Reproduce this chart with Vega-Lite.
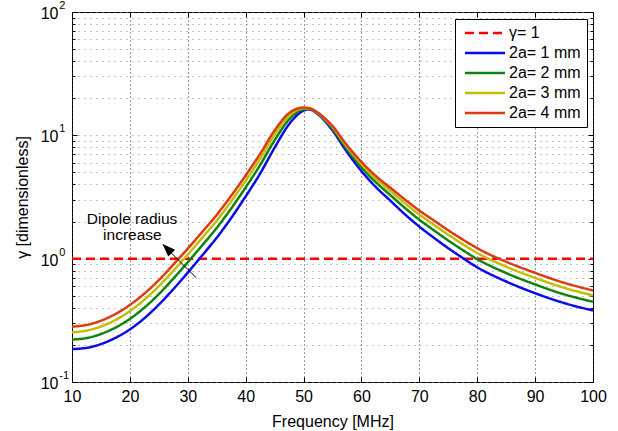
{
  "$schema": "https://vega.github.io/schema/vega-lite/v6.json",
  "width": 521,
  "height": 370,
  "autosize": {"type": "none"},
  "padding": {"left": 72, "top": 12, "right": 25, "bottom": 49},
  "background": "white",
  "config": {
    "view": {"stroke": "black", "strokeWidth": 1},
    "font": "Liberation Sans",
    "axis": {"labelFont": "Liberation Sans", "titleFont": "Liberation Sans", "labelColor": "black", "titleColor": "black", "titleFontWeight": "normal", "tickColor": "black", "domain": false}
  },
  "data": {"values": [
    {"f":10,"g":1,"s":"γ= 1"},{"f":100,"g":1,"s":"γ= 1"},
    {"f":10,"g":0.185,"s":"2a= 1 mm"},{"f":12.5,"g":0.189,"s":"2a= 1 mm"},{"f":15,"g":0.203,"s":"2a= 1 mm"},{"f":17.5,"g":0.228,"s":"2a= 1 mm"},{"f":20,"g":0.267,"s":"2a= 1 mm"},{"f":22.5,"g":0.329,"s":"2a= 1 mm"},{"f":25,"g":0.424,"s":"2a= 1 mm"},{"f":27.5,"g":0.565,"s":"2a= 1 mm"},{"f":30,"g":0.771,"s":"2a= 1 mm"},{"f":32.5,"g":1.064,"s":"2a= 1 mm"},{"f":35,"g":1.479,"s":"2a= 1 mm"},{"f":37.5,"g":2.138,"s":"2a= 1 mm"},{"f":40,"g":3.199,"s":"2a= 1 mm"},{"f":42.5,"g":4.898,"s":"2a= 1 mm"},{"f":45,"g":7.943,"s":"2a= 1 mm"},{"f":47.5,"g":12.3,"s":"2a= 1 mm"},{"f":50,"g":15.85,"s":"2a= 1 mm"},{"f":51,"g":16.22,"s":"2a= 1 mm"},{"f":52.5,"g":14.79,"s":"2a= 1 mm"},{"f":55,"g":10.96,"s":"2a= 1 mm"},{"f":57.5,"g":7.328,"s":"2a= 1 mm"},{"f":60,"g":5.129,"s":"2a= 1 mm"},{"f":62.5,"g":3.802,"s":"2a= 1 mm"},{"f":65,"g":2.951,"s":"2a= 1 mm"},{"f":67.5,"g":2.291,"s":"2a= 1 mm"},{"f":70,"g":1.82,"s":"2a= 1 mm"},{"f":72.5,"g":1.479,"s":"2a= 1 mm"},{"f":75,"g":1.216,"s":"2a= 1 mm"},{"f":77.5,"g":1.012,"s":"2a= 1 mm"},{"f":80,"g":0.851,"s":"2a= 1 mm"},{"f":85,"g":0.653,"s":"2a= 1 mm"},{"f":90,"g":0.525,"s":"2a= 1 mm"},{"f":95,"g":0.437,"s":"2a= 1 mm"},{"f":100,"g":0.38,"s":"2a= 1 mm"},
    {"f":10,"g":0.221,"s":"2a= 2 mm"},{"f":12.5,"g":0.227,"s":"2a= 2 mm"},{"f":15,"g":0.245,"s":"2a= 2 mm"},{"f":17.5,"g":0.276,"s":"2a= 2 mm"},{"f":20,"g":0.325,"s":"2a= 2 mm"},{"f":22.5,"g":0.401,"s":"2a= 2 mm"},{"f":25,"g":0.516,"s":"2a= 2 mm"},{"f":27.5,"g":0.689,"s":"2a= 2 mm"},{"f":30,"g":0.935,"s":"2a= 2 mm"},{"f":32.5,"g":1.284,"s":"2a= 2 mm"},{"f":35,"g":1.777,"s":"2a= 2 mm"},{"f":37.5,"g":2.553,"s":"2a= 2 mm"},{"f":40,"g":3.784,"s":"2a= 2 mm"},{"f":42.5,"g":5.741,"s":"2a= 2 mm"},{"f":45,"g":9.12,"s":"2a= 2 mm"},{"f":47.5,"g":13.45,"s":"2a= 2 mm"},{"f":50,"g":16.25,"s":"2a= 2 mm"},{"f":51,"g":16.38,"s":"2a= 2 mm"},{"f":52.5,"g":14.97,"s":"2a= 2 mm"},{"f":55,"g":11.35,"s":"2a= 2 mm"},{"f":57.5,"g":7.739,"s":"2a= 2 mm"},{"f":60,"g":5.521,"s":"2a= 2 mm"},{"f":62.5,"g":4.157,"s":"2a= 2 mm"},{"f":65,"g":3.274,"s":"2a= 2 mm"},{"f":67.5,"g":2.58,"s":"2a= 2 mm"},{"f":70,"g":2.07,"s":"2a= 2 mm"},{"f":72.5,"g":1.699,"s":"2a= 2 mm"},{"f":75,"g":1.404,"s":"2a= 2 mm"},{"f":77.5,"g":1.174,"s":"2a= 2 mm"},{"f":80,"g":0.992,"s":"2a= 2 mm"},{"f":85,"g":0.765,"s":"2a= 2 mm"},{"f":90,"g":0.618,"s":"2a= 2 mm"},{"f":95,"g":0.514,"s":"2a= 2 mm"},{"f":100,"g":0.447,"s":"2a= 2 mm"},
    {"f":10,"g":0.253,"s":"2a= 3 mm"},{"f":12.5,"g":0.261,"s":"2a= 3 mm"},{"f":15,"g":0.282,"s":"2a= 3 mm"},{"f":17.5,"g":0.318,"s":"2a= 3 mm"},{"f":20,"g":0.376,"s":"2a= 3 mm"},{"f":22.5,"g":0.465,"s":"2a= 3 mm"},{"f":25,"g":0.598,"s":"2a= 3 mm"},{"f":27.5,"g":0.798,"s":"2a= 3 mm"},{"f":30,"g":1.079,"s":"2a= 3 mm"},{"f":32.5,"g":1.477,"s":"2a= 3 mm"},{"f":35,"g":2.037,"s":"2a= 3 mm"},{"f":37.5,"g":2.917,"s":"2a= 3 mm"},{"f":40,"g":4.291,"s":"2a= 3 mm"},{"f":42.5,"g":6.457,"s":"2a= 3 mm"},{"f":45,"g":10.12,"s":"2a= 3 mm"},{"f":47.5,"g":14.37,"s":"2a= 3 mm"},{"f":50,"g":16.55,"s":"2a= 3 mm"},{"f":51,"g":16.5,"s":"2a= 3 mm"},{"f":52.5,"g":15.1,"s":"2a= 3 mm"},{"f":55,"g":11.64,"s":"2a= 3 mm"},{"f":57.5,"g":8.054,"s":"2a= 3 mm"},{"f":60,"g":5.834,"s":"2a= 3 mm"},{"f":62.5,"g":4.441,"s":"2a= 3 mm"},{"f":65,"g":3.538,"s":"2a= 3 mm"},{"f":67.5,"g":2.818,"s":"2a= 3 mm"},{"f":70,"g":2.278,"s":"2a= 3 mm"},{"f":72.5,"g":1.884,"s":"2a= 3 mm"},{"f":75,"g":1.563,"s":"2a= 3 mm"},{"f":77.5,"g":1.311,"s":"2a= 3 mm"},{"f":80,"g":1.112,"s":"2a= 3 mm"},{"f":85,"g":0.861,"s":"2a= 3 mm"},{"f":90,"g":0.698,"s":"2a= 3 mm"},{"f":95,"g":0.581,"s":"2a= 3 mm"},{"f":100,"g":0.503,"s":"2a= 3 mm"},
    {"f":10,"g":0.281,"s":"2a= 4 mm"},{"f":12.5,"g":0.29,"s":"2a= 4 mm"},{"f":15,"g":0.314,"s":"2a= 4 mm"},{"f":17.5,"g":0.356,"s":"2a= 4 mm"},{"f":20,"g":0.422,"s":"2a= 4 mm"},{"f":22.5,"g":0.521,"s":"2a= 4 mm"},{"f":25,"g":0.671,"s":"2a= 4 mm"},{"f":27.5,"g":0.895,"s":"2a= 4 mm"},{"f":30,"g":1.208,"s":"2a= 4 mm"},{"f":32.5,"g":1.648,"s":"2a= 4 mm"},{"f":35,"g":2.265,"s":"2a= 4 mm"},{"f":37.5,"g":3.236,"s":"2a= 4 mm"},{"f":40,"g":4.732,"s":"2a= 4 mm"},{"f":42.5,"g":7.079,"s":"2a= 4 mm"},{"f":45,"g":10.96,"s":"2a= 4 mm"},{"f":47.5,"g":15.14,"s":"2a= 4 mm"},{"f":50,"g":16.79,"s":"2a= 4 mm"},{"f":51,"g":16.6,"s":"2a= 4 mm"},{"f":52.5,"g":15.21,"s":"2a= 4 mm"},{"f":55,"g":11.89,"s":"2a= 4 mm"},{"f":57.5,"g":8.318,"s":"2a= 4 mm"},{"f":60,"g":6.095,"s":"2a= 4 mm"},{"f":62.5,"g":4.677,"s":"2a= 4 mm"},{"f":65,"g":3.758,"s":"2a= 4 mm"},{"f":67.5,"g":3.02,"s":"2a= 4 mm"},{"f":70,"g":2.455,"s":"2a= 4 mm"},{"f":72.5,"g":2.042,"s":"2a= 4 mm"},{"f":75,"g":1.698,"s":"2a= 4 mm"},{"f":77.5,"g":1.429,"s":"2a= 4 mm"},{"f":80,"g":1.216,"s":"2a= 4 mm"},{"f":85,"g":0.944,"s":"2a= 4 mm"},{"f":90,"g":0.767,"s":"2a= 4 mm"},{"f":95,"g":0.638,"s":"2a= 4 mm"},{"f":100,"g":0.552,"s":"2a= 4 mm"}
  ]},
  "resolve": {"axis": {"x": "independent", "y": "independent"}},
  "layer": [
    {
      "mark": {"type": "point", "opacity": 0},
      "encoding": {
        "x": {"field": "f", "type": "quantitative",
          "scale": {"type": "linear", "domain": [10, 100], "nice": false, "zero": false},
          "axis": {"orient": "bottom", "values": [10,20,30,40,50,60,70,80,90,100], "grid": true, "gridDash": [1,3], "gridColor": "#333333", "gridWidth": 1, "tickSize": -5, "labelPadding": 11, "labelFontSize": 16, "labelFlush": false, "labelOverlap": false, "title": "Frequency [MHz]", "titleFontSize": 16, "titlePadding": 9}},
        "y": {"field": "g", "type": "quantitative",
          "scale": {"type": "log", "domain": [0.1, 100], "nice": false},
          "axis": {"orient": "left", "values": [0.1, 1, 10, 100], "labelExpr": "'10'", "grid": true, "gridDash": [1,5], "gridColor": "#888888", "tickSize": -5, "labelPadding": 19, "labelOffset": 1.5, "labelFontSize": 16, "labelFlush": false, "labelOverlap": false, "title": "γ [dimensionless]", "titleFontSize": 16, "titlePadding": 10}}
      }
    },
    {
      "mark": {"type": "point", "opacity": 0},
      "encoding": {
        "x": {"field": "f", "type": "quantitative",
          "axis": {"orient": "top", "values": [10,20,30,40,50,60,70,80,90,100], "grid": false, "tickSize": -5, "labels": false, "title": null}},
        "y": {"field": "g", "type": "quantitative",
          "axis": {"orient": "right", "values": [0.1, 1, 10, 100], "grid": false, "tickSize": -5, "labels": false, "title": null}}
      }
    },
    {
      "mark": {"type": "point", "opacity": 0},
      "encoding": {
        "x": {"field": "f", "type": "quantitative", "axis": null},
        "y": {"field": "g", "type": "quantitative",
          "axis": {"orient": "left", "values": [0.2,0.3,0.4,0.5,0.6,0.7,0.8,0.9,2,3,4,5,6,7,8,9,20,30,40,50,60,70,80,90], "grid": true, "gridDash": [1,5], "gridColor": "#888888", "tickSize": -3, "labels": false, "title": null}}
      }
    },
    {
      "mark": {"type": "point", "opacity": 0},
      "encoding": {
        "x": {"field": "f", "type": "quantitative", "axis": null},
        "y": {"field": "g", "type": "quantitative",
          "axis": {"orient": "right", "values": [0.2,0.3,0.4,0.5,0.6,0.7,0.8,0.9,2,3,4,5,6,7,8,9,20,30,40,50,60,70,80,90], "grid": false, "tickSize": -3, "labels": false, "title": null}}
      }
    },
    {
      "mark": {"type": "line", "strokeWidth": 2.5, "interpolate": "monotone", "clip": true},
      "encoding": {
        "x": {"field": "f", "type": "quantitative", "axis": null},
        "y": {"field": "g", "type": "quantitative", "axis": null},
        "color": {"field": "s", "type": "nominal",
          "scale": {"domain": ["γ= 1","2a= 1 mm","2a= 2 mm","2a= 3 mm","2a= 4 mm"], "range": ["#FF0000","#0A0AF0","#0F820F","#C4BC00","#DD3A12"]},
          "legend": {"title": null, "orient": "none", "legendX": 383, "legendY": 7, "symbolType": "M-5,0H5", "symbolSize": 64, "symbolStrokeWidth": 2.5, "symbolOffset": 16, "labelOffset": 16, "labelFontSize": 16, "labelFont": "Liberation Sans", "labelColor": "black", "padding": 6, "rowPadding": 4, "strokeColor": "black", "fillColor": "white", "labelLimit": 300}},
        "strokeDash": {"field": "s", "type": "nominal",
          "scale": {"domain": ["γ= 1","2a= 1 mm","2a= 2 mm","2a= 3 mm","2a= 4 mm"], "range": [[9,5],[1,0],[1,0],[1,0],[1,0]]},
          "legend": {"title": null, "orient": "none", "legendX": 383, "legendY": 7, "symbolType": "M-5,0H5", "symbolSize": 64, "symbolStrokeWidth": 2.5, "symbolOffset": 16, "labelOffset": 16, "labelFontSize": 16, "labelFont": "Liberation Sans", "labelColor": "black", "padding": 6, "rowPadding": 4, "strokeColor": "black", "fillColor": "white", "labelLimit": 300}}
      }
    },
    {
      "data": {"values": [{"v": 100, "e": "2"}, {"v": 10, "e": "1"}, {"v": 1, "e": "0"}, {"v": 0.1, "e": "-1"}]},
      "mark": {"type": "text", "align": "left", "baseline": "middle", "dx": -12.7, "dy": -6, "fontSize": 11, "font": "Liberation Sans", "color": "black", "clip": false},
      "encoding": {
        "x": {"datum": 10, "type": "quantitative", "axis": null},
        "y": {"field": "v", "type": "quantitative", "axis": null},
        "text": {"field": "e"}
      }
    },
    {
      "data": {"values": [{"f": 20.38, "g": 1.92, "t": "Dipole radius"}, {"f": 20.43, "g": 1.43, "t": "increase"}]},
      "mark": {"type": "text", "align": "center", "baseline": "alphabetic", "fontSize": 15.5, "font": "Liberation Sans", "color": "black"},
      "encoding": {
        "x": {"field": "f", "type": "quantitative", "axis": null},
        "y": {"field": "g", "type": "quantitative", "axis": null},
        "text": {"field": "t"}
      }
    },
    {
      "data": {"values": [{"f": 31.5, "g": 0.697, "f2": 25.7, "g2": 1.30}]},
      "mark": {"type": "rule", "color": "black", "strokeWidth": 1},
      "encoding": {
        "x": {"field": "f", "type": "quantitative", "axis": null},
        "y": {"field": "g", "type": "quantitative", "axis": null},
        "x2": {"field": "f2"},
        "y2": {"field": "g2"}
      }
    },
    {
      "data": {"values": [{"f": 25.64, "g": 1.316}]},
      "mark": {"type": "point", "shape": "M0,0L-0.75,2L0.75,2Z", "filled": true, "color": "black", "size": 169, "angle": 315, "opacity": 1},
      "encoding": {
        "x": {"field": "f", "type": "quantitative", "axis": null},
        "y": {"field": "g", "type": "quantitative", "axis": null}
      }
    }
  ]
}
